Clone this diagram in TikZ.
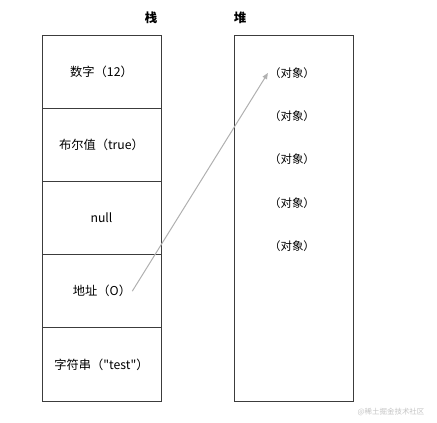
\documentclass[tikz,border=0pt]{standalone}
\usepackage{fontspec}
\setmainfont{Noto Sans CJK SC}[Ligatures=TeXOff]
\usetikzlibrary{arrows.meta}
\definecolor{boxColor}{HTML}{3C3C3C}
\definecolor{linkColor}{HTML}{B0B0B0}
\definecolor{markColor}{HTML}{C4C4C4}
\def\textStack{栈}
\def\textHeap{堆}
\def\textObj{（对象）}
\tikzset{
  cellBox/.style={draw=boxColor, line width=1bp, minimum width=119bp,
    minimum height=73.2bp, inner sep=0pt,
    font=\fontsize{12.3}{14}\selectfont},
  heapBox/.style={draw=boxColor, line width=1bp, minimum width=119bp,
    minimum height=366bp, inner sep=0pt},
  objText/.style={inner sep=1bp, font=\fontsize{11.5}{13}\selectfont},
  titleText/.style={inner sep=0pt, font=\fontsize{12.5}{14}\selectfont\bfseries}
}

\begin{document}
\begin{tikzpicture}[x=1bp,y=-1bp]
\useasboundingbox (0, 0) rectangle (437, 422);

% titles
\begin{scope}
\node[titleText] (stackTitle) at (151, 18) {\textStack};
\node[titleText] (heapTitle) at (240, 18) {\textHeap};
\end{scope}

% stack layer
\begin{scope}
\node[cellBox] (cellA) at (101.5, 71.6) {数字（12）};
\node[cellBox] (cellB) at (101.5, 144.8) {布尔值（true）};
\node[cellBox] (cellC) at (101.5, 218) {null};
\node[cellBox] (cellD) at (101.5, 291.2) {};
\node[cellBox] (cellE) at (101.5, 364.4) {字符串（"test"）};
\node[inner sep=1bp, font=\fontsize{12.3}{14}\selectfont] (addr) at (102, 291.2) {地址（O）};
\end{scope}

% heap layer
\begin{scope}
\node[heapBox] (heap) at (293.5, 218) {};
\node[objText] (objA) at (292, 73) {\textObj};
\node[objText] (objB) at (292, 116) {\textObj};
\node[objText] (objC) at (292, 159) {\textObj};
\node[objText] (objD) at (292, 203) {\textObj};
\node[objText] (objE) at (292, 246) {\textObj};
\end{scope}

% link layer
\begin{scope}
\draw[color=linkColor, line width=1bp, -{Triangle[length=6bp, width=5bp]}]
(addr.east) -- (objA.west);
\end{scope}

% mark
\node[text=markColor, inner sep=0pt, font=\fontsize{7.5}{9}\selectfont]
(mark) at (391, 412) {@稀土掘金技术社区};

\end{tikzpicture}
\end{document}
